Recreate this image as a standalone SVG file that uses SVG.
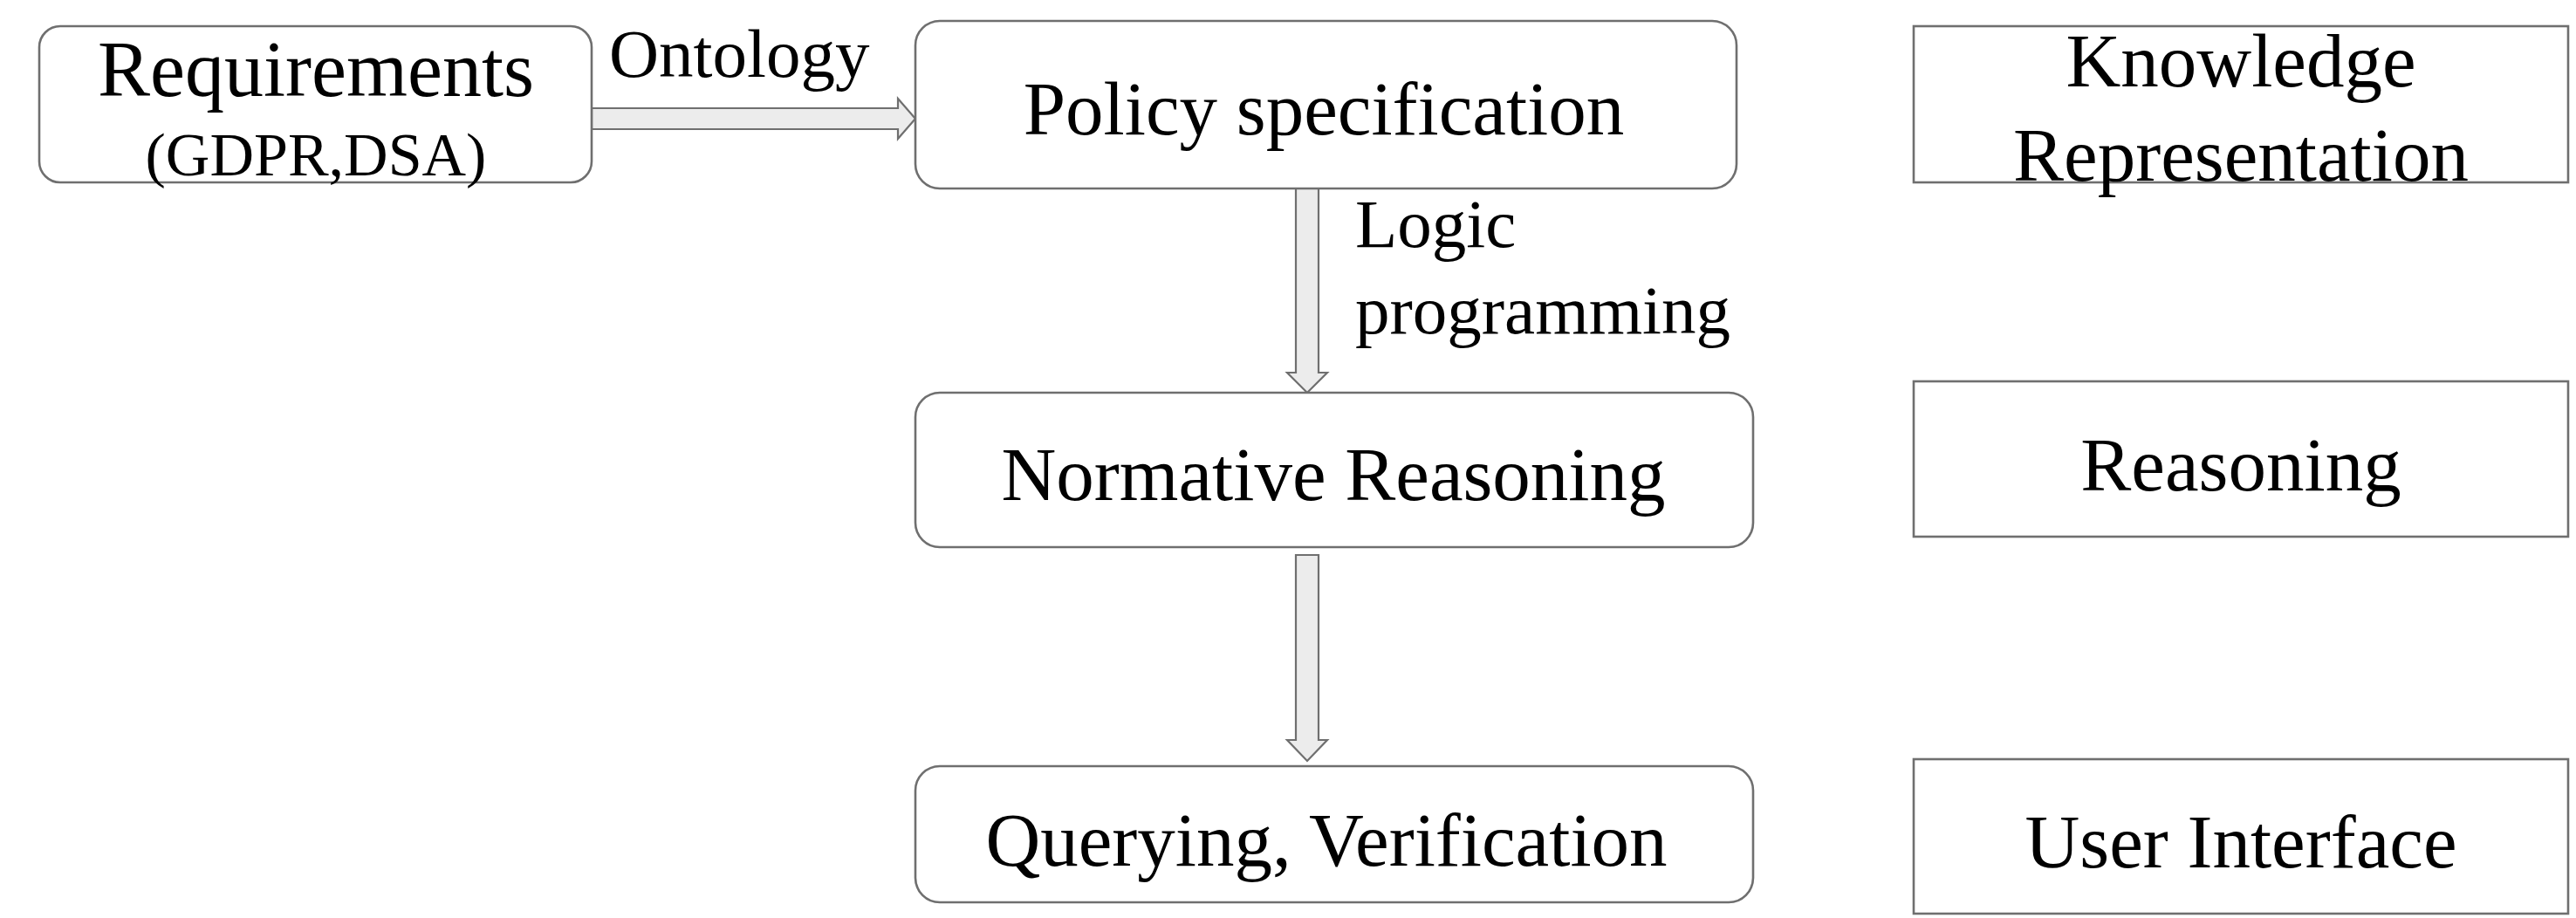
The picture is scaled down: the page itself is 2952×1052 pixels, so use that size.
<svg xmlns="http://www.w3.org/2000/svg" width="2952" height="1052" viewBox="0 0 2952 1052">
  <style>
    .box { fill: #ffffff; stroke: #6f6f6f; stroke-width: 2.6; }
    .arrow { fill: #ececec; stroke: #6f6f6f; stroke-width: 2.2; stroke-linejoin: miter; }
    .lbl { font-family: "Liberation Serif", "DejaVu Serif", serif; font-size: 87px; fill: #000000; text-anchor: middle; }
    .edge { font-family: "Liberation Serif", "DejaVu Serif", serif; font-size: 79px; fill: #000000; }
    .big { font-size: 90px; }
    .sub { font-size: 70px; }
  </style>

  <rect width="2952" height="1052" fill="#ffffff"/>

  <!-- block arrows between the pipeline stages -->
  <g id="connectors">
    <polygon class="arrow" points="678,124 1029,124 1029,113 1049,136 1029,159 1029,148 678,148"/>
    <text class="edge" x="698" y="88">Ontology</text>

    <polygon class="arrow" points="1485,216 1511,216 1511,427 1521,427 1498,450 1475,427 1485,427"/>
    <text class="edge" x="1553" y="283">Logic</text>
    <text class="edge" x="1553" y="382">programming</text>

    <polygon class="arrow" points="1485,636 1511,636 1511,848 1521,848 1498,872 1475,848 1485,848"/>
  </g>

  <!-- pipeline stages -->
  <g id="requirements">
    <rect class="box" x="45" y="30" width="633" height="179" rx="24" ry="24"/>
    <text class="lbl big" x="362" y="110">Requirements</text>
    <text class="lbl sub" x="362" y="201">(GDPR,DSA)</text>
  </g>

  <g id="policy-specification">
    <rect class="box" x="1049" y="24" width="941" height="192" rx="28" ry="28"/>
    <text class="lbl" x="1517" y="154">Policy specification</text>
  </g>

  <g id="normative-reasoning">
    <rect class="box" x="1049" y="450" width="960" height="177" rx="28" ry="28"/>
    <text class="lbl" x="1528" y="573">Normative Reasoning</text>
  </g>

  <g id="querying-verification">
    <rect class="box" x="1049" y="878" width="960" height="156" rx="28" ry="28"/>
    <text class="lbl" x="1520" y="992">Querying, Verification</text>
  </g>

  <!-- layer legend on the right -->
  <g id="knowledge-representation">
    <rect class="box" x="2193" y="30" width="750" height="179"/>
    <text class="lbl" x="2568" y="99">Knowledge</text>
    <text class="lbl" x="2568" y="207">Representation</text>
  </g>

  <g id="reasoning">
    <rect class="box" x="2193" y="437" width="750" height="178"/>
    <text class="lbl" x="2568" y="562">Reasoning</text>
  </g>

  <g id="user-interface">
    <rect class="box" x="2193" y="870" width="750" height="177"/>
    <text class="lbl" x="2568" y="994">User Interface</text>
  </g>
</svg>
